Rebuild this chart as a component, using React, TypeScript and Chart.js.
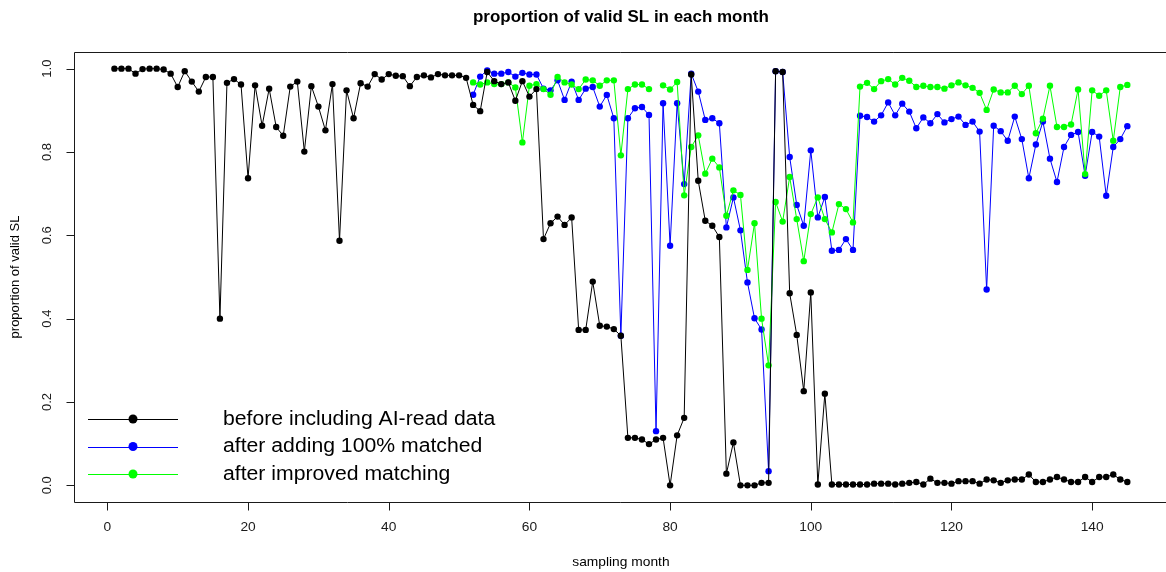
import { useEffect, useRef } from "react";
import { Chart, registerables } from "chart.js";

Chart.register(...registerables);

// Proportion of valid SL per sampling month (months 1..145)
const beforeAI: number[] = [
  1.0, 1.0, 1.0, 0.988, 0.999, 1.0, 1.0, 0.998, 0.988, 0.956,
  0.994, 0.969, 0.945, 0.98, 0.98, 0.4, 0.966, 0.975, 0.962, 0.737,
  0.96, 0.863, 0.952, 0.86, 0.839, 0.957, 0.969, 0.801, 0.958, 0.909,
  0.852, 0.963, 0.587, 0.948, 0.881, 0.965, 0.957, 0.987, 0.974, 0.987,
  0.983, 0.982, 0.958, 0.98, 0.984, 0.979, 0.987, 0.984, 0.984, 0.984,
  0.978, 0.913, 0.898, 0.992, 0.97, 0.963, 0.967, 0.923, 0.97, 0.933,
  0.951, 0.591, 0.629, 0.645, 0.625, 0.643, 0.373, 0.373, 0.489, 0.383,
  0.381, 0.375, 0.359, 0.114, 0.114, 0.11, 0.099, 0.11, 0.114, 0.0,
  0.12, 0.162, 0.986, 0.731, 0.635, 0.623, 0.596, 0.028, 0.103, 0.0,
  0.0, 0.0, 0.006, 0.006, 0.994, 0.992, 0.461, 0.361, 0.226, 0.463,
  0.002, 0.22, 0.002, 0.002, 0.002, 0.002, 0.002, 0.002, 0.004, 0.004,
  0.004, 0.002, 0.004, 0.006, 0.008, 0.002, 0.016, 0.006, 0.006, 0.004,
  0.01, 0.01, 0.01, 0.004, 0.014, 0.012, 0.006, 0.012, 0.014, 0.014,
  0.026, 0.008, 0.008, 0.014, 0.02, 0.014, 0.008, 0.008, 0.02, 0.008,
  0.02, 0.02, 0.026, 0.014, 0.008,
];

// The matched series begin at this month
const matchedStartMonth = 52;

// Months 52..145
const after100Matched: (number | null)[] = [
  0.9375, 0.981, 0.996, 0.988, 0.988, 0.992, 0.981, 0.99, 0.986, 0.986,
  0.952, 0.948, 0.972, 0.925, 0.969, 0.925, 0.952, 0.956, 0.909, 0.937,
  0.881, 0.359, 0.881, 0.905, 0.908, 0.889, 0.13, 0.917, 0.575, 0.917,
  0.723, 0.988, 0.945, 0.877, 0.881, 0.869, 0.619, 0.691, 0.612, 0.487,
  0.401, 0.374, 0.034, 0.994, 0.992, 0.788, 0.673, 0.623, 0.804, 0.643,
  0.692, 0.563, 0.565, 0.591, 0.565, 0.887, 0.884, 0.873, 0.888, 0.919,
  0.888, 0.916, 0.897, 0.857, 0.883, 0.869, 0.891, 0.871, 0.879, 0.885,
  0.865, 0.873, 0.849, 0.47, 0.863, 0.85, 0.827, 0.885, 0.831, 0.737,
  0.818, 0.873, 0.784, 0.728, 0.812, 0.841, 0.848, 0.743, 0.848, 0.837,
  0.695, 0.812, 0.831, 0.862,
];

// Months 52..145
const improvedMatching: (number | null)[] = [
  0.967, 0.962, 0.967, 0.963, 0.963, 0.967, 0.955, 0.823, 0.959, 0.963,
  0.951, 0.9375, 0.98, 0.967, 0.962, 0.951, 0.974, 0.972, 0.959, 0.972,
  0.972, 0.792, 0.951, 0.962, 0.962, 0.951, null, 0.96, 0.95, 0.968,
  0.696, 0.812, 0.84, 0.748, 0.784, 0.763, 0.647, 0.708, 0.697, 0.517,
  0.629, 0.4, 0.288, 0.68, 0.633, 0.74, 0.639, 0.538, 0.651, 0.691,
  0.639, 0.607, 0.675, 0.663, 0.631, 0.957, 0.966, 0.951, 0.97, 0.975,
  0.962, 0.978, 0.971, 0.956, 0.959, 0.956, 0.956, 0.952, 0.96, 0.967,
  0.96, 0.954, 0.942, 0.901, 0.95, 0.943, 0.943, 0.959, 0.939, 0.959,
  0.845, 0.88, 0.959, 0.86, 0.86, 0.866, 0.95, 0.747, 0.948, 0.935,
  0.948, 0.827, 0.956, 0.961,
];

const xTickValues = [0, 20, 40, 60, 80, 100, 120, 140];
const yTickValues = [0.0, 0.2, 0.4, 0.6, 0.8, 1.0];
const yTickLabels = ["0.0", "0.2", "0.4", "0.6", "0.8", "1.0"];

const seriesNames = [
  "before including AI-read data",
  "after adding 100% matched",
  "after improved matching",
];
const seriesColors = ["#000000", "#0000ff", "#00ff00"];

const titleText = "proportion of valid SL in each month";
const xTitle = "sampling month";
const yTitle = "proportion of valid SL";

const W = 1166;
const H = 572;
const FONT = "'Liberation Sans', Arial, sans-serif";
// horizontal text is set slightly wide
const WIDEN = 1.06;

const toPoints = (vals: (number | null)[], start: number) =>
  vals.map((v, i) => ({ x: start + i, y: v }));

function wideText(ctx: CanvasRenderingContext2D, text: string, x: number, y: number, sx = WIDEN) {
  ctx.save();
  ctx.translate(x, y);
  ctx.scale(sx, 1);
  ctx.fillText(text, 0, 0);
  ctx.restore();
}

// Base-graphics style frame: box, outward ticks, rotated y labels, titles, legend
const framePlugin = {
  id: "frame",
  beforeDraw(chart: any) {
    const ctx = chart.ctx;
    ctx.save();
    ctx.fillStyle = "#ffffff";
    ctx.fillRect(0, 0, chart.width, chart.height);
    ctx.restore();
  },
  afterDraw(chart: any) {
    const ctx: CanvasRenderingContext2D = chart.ctx;
    const { left, top, bottom } = chart.chartArea;
    const xs = chart.scales.x;
    const ys = chart.scales.y;
    const L = Math.round(left) + 0.5;
    const T = Math.round(top) + 0.5;
    const B = Math.round(bottom) + 0.5;
    ctx.save();
    ctx.strokeStyle = "#1a1a1a";
    ctx.lineWidth = 1;

    // plot box (its right side falls past the canvas edge)
    ctx.beginPath();
    ctx.moveTo(chart.width + 10, T);
    ctx.lineTo(L, T);
    ctx.lineTo(L, B);
    ctx.lineTo(chart.width + 10, B);
    ctx.stroke();

    ctx.fillStyle = "#1a1a1a";
    // x axis ticks and labels
    ctx.font = `13px ${FONT}`;
    ctx.textAlign = "center";
    ctx.textBaseline = "middle";
    ctx.beginPath();
    xTickValues.forEach((v) => {
      const px = Math.round(xs.getPixelForValue(v)) + 0.5;
      ctx.moveTo(px, B);
      ctx.lineTo(px, B + 8);
    });
    ctx.stroke();
    xTickValues.forEach((v) => {
      wideText(ctx, String(v), xs.getPixelForValue(v), B + 25);
    });

    // y axis ticks and rotated labels
    ctx.beginPath();
    yTickValues.forEach((v) => {
      const py = Math.round(ys.getPixelForValue(v)) + 0.5;
      ctx.moveTo(L, py);
      ctx.lineTo(L - 8, py);
    });
    ctx.stroke();
    yTickValues.forEach((v, i) => {
      const py = ys.getPixelForValue(v);
      ctx.save();
      ctx.translate(L - 27, py);
      ctx.rotate(-Math.PI / 2);
      ctx.fillText(yTickLabels[i], 0, 0);
      ctx.restore();
    });

    // titles
    const cx = (left + xs.getPixelForValue(150.76)) / 2;
    ctx.fillStyle = "#000000";
    ctx.font = `bold 16px ${FONT}`;
    wideText(ctx, titleText, cx, 18);
    ctx.font = `13px ${FONT}`;
    wideText(ctx, xTitle, cx, 562);
    ctx.save();
    ctx.translate(15, (top + bottom) / 2);
    ctx.rotate(-Math.PI / 2);
    ctx.fillText(yTitle, 0, 0);
    ctx.restore();

    // legend
    ctx.font = `20px ${FONT}`;
    ctx.textAlign = "left";
    seriesNames.forEach((name, i) => {
      const y = 419 + i * 27.5;
      ctx.strokeStyle = seriesColors[i];
      ctx.beginPath();
      ctx.moveTo(88, Math.round(y) + 0.5);
      ctx.lineTo(178, Math.round(y) + 0.5);
      ctx.stroke();
      ctx.fillStyle = seriesColors[i];
      ctx.beginPath();
      ctx.arc(133, y, 4.5, 0, Math.PI * 2);
      ctx.fill();
      ctx.fillStyle = "#000000";
      wideText(ctx, name, 223, y);
    });
    ctx.restore();
  },
};

export default function App() {
  const ref = useRef<HTMLCanvasElement | null>(null);

  useEffect(() => {
    if (!ref.current) return;
    const mk = (i: number, data: any[], order: number) => ({
      label: seriesNames[i],
      data,
      order,
      borderColor: seriesColors[i],
      backgroundColor: seriesColors[i],
      pointBackgroundColor: seriesColors[i],
      pointBorderWidth: 0,
      pointRadius: 3.2,
      borderWidth: 1,
      tension: 0,
      spanGaps: false,
    });
    const chart = new Chart(ref.current, {
      type: "line",
      data: {
        datasets: [
          mk(0, toPoints(beforeAI, 1), 0),
          mk(1, toPoints(after100Matched, matchedStartMonth), 2),
          mk(2, toPoints(improvedMatching, matchedStartMonth), 1),
        ],
      },
      options: {
        animation: false,
        responsive: false,
        maintainAspectRatio: false,
        events: [],
        layout: { padding: { left: 74, top: 52, right: 0, bottom: 70 } },
        scales: {
          x: { type: "linear", min: -4.745, max: 149.93, display: false },
          y: { type: "linear", min: -0.04, max: 1.04, display: false },
        },
        plugins: {
          legend: { display: false },
          tooltip: { enabled: false },
          title: { display: false },
        },
      },
      plugins: [framePlugin],
    });
    return () => chart.destroy();
  }, []);

  return (
    <div style={{ position: "fixed", left: 0, top: 0, width: W, height: H, background: "#fff" }}>
      <canvas ref={ref} width={W} height={H} style={{ display: "block", width: W, height: H }} />
    </div>
  );
}
